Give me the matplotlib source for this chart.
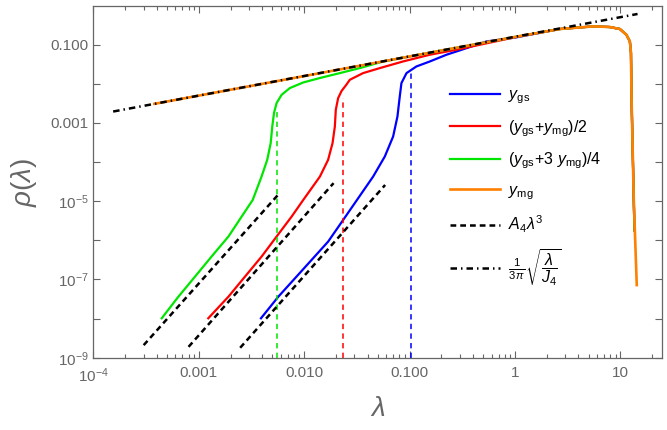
import numpy as np
import matplotlib
matplotlib.use("Agg")
import matplotlib.pyplot as plt
from matplotlib.ticker import FixedLocator, NullFormatter

plt.rcParams['font.family'] = ['Liberation Sans', 'DejaVu Sans']
plt.rcParams['mathtext.fontset'] = 'custom'
plt.rcParams['mathtext.rm'] = 'Liberation Sans'
plt.rcParams['mathtext.it'] = 'Liberation Sans:italic'
plt.rcParams['mathtext.bf'] = 'Liberation Sans:bold'

# values (lambda, rho)
blue_lam = [3.89e-3, 5.68e-3, 8.17e-3, 0.01175, 0.01686, 0.02344, 0.0451, 0.0582, 0.0698,
            0.0767, 0.0807, 0.0837, 0.0935, 0.116, 0.1556, 0.224, 0.299, 0.536, 1.0]
blue_rho = [1.02e-8, 3.63e-8, 1.07e-7, 3.16e-7, 9.27e-7, 3.33e-6, 4.27e-5, 1.39e-4, 4.51e-4,
            1.46e-3, 4.75e-3, 0.01047, 0.0188, 0.0278, 0.0373, 0.0555, 0.0715, 0.121, 0.152]

red_lam = [1.23e-3, 1.91e-3, 2.74e-3, 3.94e-3, 5.47e-3, 7.60e-3, 9.80e-3, 0.0141, 0.01686, 0.01858,
           0.01954, 0.01995, 0.0210, 0.02265, 0.0252, 0.0271, 0.0362, 0.0523, 0.0867, 0.1556,
           0.2786, 1.0]
red_rho = [1.02e-8, 3.63e-8, 1.18e-7, 3.84e-7, 1.25e-6, 4.05e-6, 1.08e-5, 4.27e-5, 1.14e-4, 3.05e-4,
           8.1e-4, 2.17e-3, 4.32e-3, 6.6e-3, 9.6e-3, 0.0127, 0.0188, 0.0253, 0.0373, 0.0555,
           0.0745, 0.155]

green_lam = [4.45e-4, 6.40e-4, 9.20e-4, 1.32e-3, 1.91e-3, 2.55e-3, 3.25e-3, 3.94e-3, 4.46e-3, 4.81e-3,
             4.98e-3, 5.17e-3, 5.47e-3, 6.11e-3, 7.31e-3, 9.8e-3, 0.0141, 0.0218, 0.0337, 0.0561,
             0.1, 1.0]
green_rho = [1.02e-8, 3.63e-8, 1.18e-7, 3.84e-7, 1.25e-6, 4.05e-6, 1.08e-5, 4.27e-5, 1.14e-4, 3.05e-4,
             8.1e-4, 1.79e-3, 3.22e-3, 5.25e-3, 7.8e-3, 0.01084, 0.0141, 0.0188, 0.0253, 0.0373,
             0.05, 0.158]

orange_lam = [3.79e-4, 0.01, 0.1, 1.0]
orange_rho = [3.08e-3, 0.0158, 0.05, 0.158]

# shared part near the upper edge, where all curves coincide
tail_lam = [2.67, 5.52, 7.94, 9.88, 11.4, 12.3, 12.6, 12.77, 13.4]
tail_rho = [0.252, 0.294, 0.283, 0.252, 0.18, 0.121, 0.0624, 3.9e-3, 1.07e-5]
end_mix = (13.6, 1.8e-6)
end_mg = (14.3, 7.2e-8)

# A4 lambda^3 asymptotes
a4_lam = [[3.0e-4, 5.9e-3], [8.0e-4, 0.019], [2.47e-3, 0.0586]]
a4_rho = [[2.1e-9, 1.66e-5], [1.9e-9, 2.9e-5], [1.8e-9, 2.6e-5]]

# sqrt(lambda/J4)/(3 pi)
sq_lam = [1.54e-4, 14.55]
sq_rho = [1.96e-3, 0.61]

# vertical markers
vline_lam = [0.00558, 0.0236, 0.1026]
vline_top = [2.2e-3, 4.3e-3, 0.0189]

c_blue, c_red, c_green, c_orange = '#0000ff', '#ff0000', '#00e600', '#ff8000'
gray = '#666666'

fig = plt.figure(figsize=(6.67, 4.30), dpi=100)
ax = fig.add_axes([0.140, 0.168, 0.853, 0.817])

lw = 1.6
for lam, rho, col, lab in [(blue_lam, blue_rho, c_blue, r'$y_{\mathrm{gs}}$'),
                           (red_lam, red_rho, c_red, r'$(y_{\mathrm{gs}}\!+\!y_{\mathrm{mg}})/2$'),
                           (green_lam, green_rho, c_green, r'$(y_{\mathrm{gs}}\!+\!3\ y_{\mathrm{mg}})/4$')]:
    ax.plot(lam + tail_lam + [end_mix[0]], rho + tail_rho + [end_mix[1]], color=col, lw=lw,
            label=lab, solid_joinstyle='round')
ax.plot(orange_lam + tail_lam + [end_mg[0]], orange_rho + tail_rho + [end_mg[1]],
        color=c_orange, lw=lw + 0.3, label=r'$y_{\mathrm{mg}}$', solid_joinstyle='round')

for x, top, col in zip(vline_lam, vline_top, [c_green, c_red, c_blue]):
    ax.plot([x, x], [1e-9, top], color=col, lw=1.1, linestyle=(0, (3.5, 2.8)))

for i, (lam, rho) in enumerate(zip(a4_lam, a4_rho)):
    ax.plot(lam, rho, color='black', lw=1.8, linestyle=(0, (2.3, 1.6)),
            label=r'$A_4\lambda^3$' if i == 0 else None)

ax.plot(sq_lam, sq_rho, color='black', lw=1.8, linestyle=(0, (2.6, 1.6, 0.6, 1.6)),
        label=r'$\frac{1}{3\,\pi}\sqrt{\dfrac{\lambda}{J_4}}$')

ax.set_xscale('log')
ax.set_yscale('log')
ax.set_xlim(1e-4, 25)
ax.set_ylim(1e-9, 0.95)

xt = [1e-4, 1e-3, 1e-2, 1e-1, 1, 10]
xt_labels = [r'$10^{-4}$', '0.001', '0.010', '0.100', '1', '10']
ax.xaxis.set_major_locator(FixedLocator(xt))
ax.set_xticklabels(xt_labels)
xminor = [m * 10.0 ** e for e in range(-4, 2) for m in range(2, 10) if m * 10.0 ** e <= 25]
ax.xaxis.set_minor_locator(FixedLocator(xminor))
ax.xaxis.set_minor_formatter(NullFormatter())

yt = [10.0 ** e for e in range(-9, 1)]
yt_labels = [r'$10^{-9}$', '', r'$10^{-7}$', '', r'$10^{-5}$', '', '0.001', '', '0.100', '']
ax.yaxis.set_major_locator(FixedLocator(yt))
ax.set_yticklabels(yt_labels)
ax.yaxis.set_minor_locator(FixedLocator([]))

ax.tick_params(which='both', direction='in', top=True, right=True, colors=gray,
               labelcolor=gray, labelsize=11, width=0.8)
ax.tick_params(which='major', length=5)
ax.tick_params(which='minor', length=3)
ax.tick_params(axis='x', pad=6)
for s in ax.spines.values():
    s.set_color(gray)
    s.set_linewidth(0.9)

ax.set_xlabel(r'$\lambda$', fontsize=20, color=gray, labelpad=8)
ax.set_ylabel(r'$\rho(\lambda)$', fontsize=20, color=gray, labelpad=8)

leg = ax.legend(loc='upper left', bbox_to_anchor=(0.627, 0.77), frameon=False, fontsize=11.5,
                handlelength=3.1, handletextpad=0.5, labelspacing=0.75, labelcolor='black',
                borderpad=0, borderaxespad=0)

fig.savefig('out.png', dpi=100)
